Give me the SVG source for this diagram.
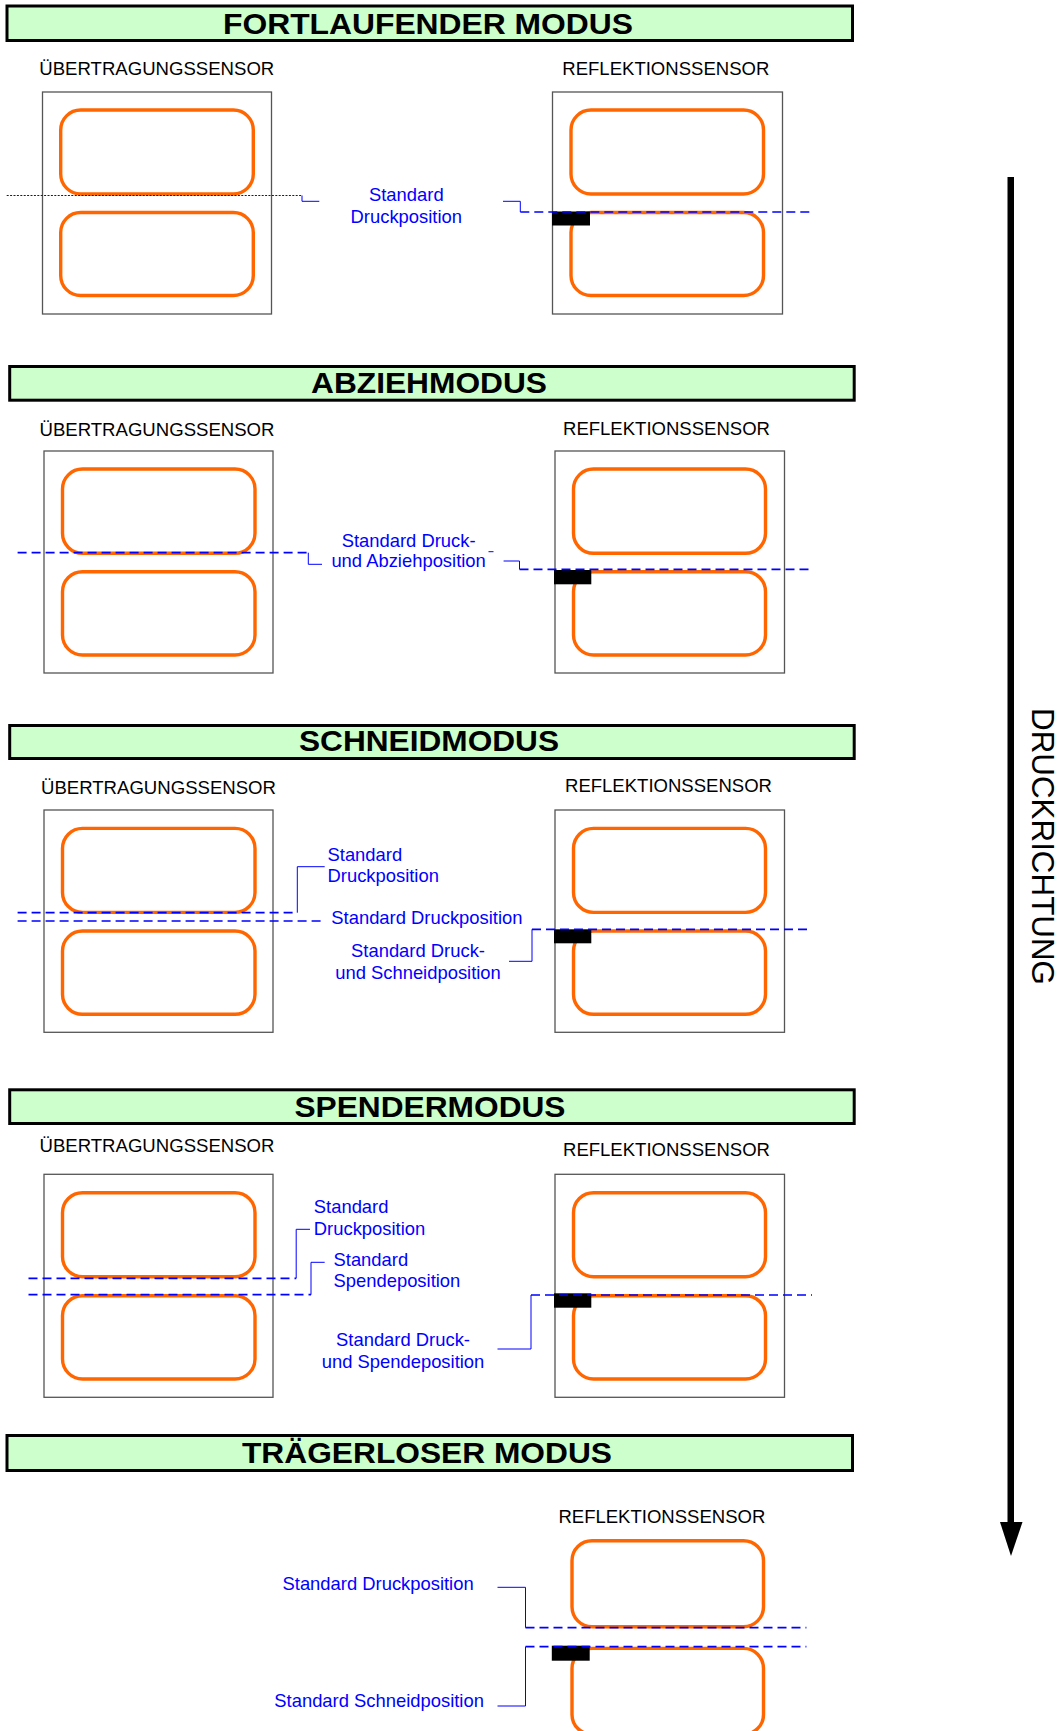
<svg xmlns="http://www.w3.org/2000/svg" width="1061" height="1731" viewBox="0 0 1061 1731">
<style>
.bg{fill:#fff}
.bar{fill:#CCFFCC;stroke:#000;stroke-width:3}
.ttl{font-family:"Liberation Sans",Arial,sans-serif;font-weight:bold;font-size:30px;fill:#000;text-anchor:middle}
.sen{font-family:"Liberation Sans",Arial,sans-serif;font-size:18px;fill:#000}
.box{fill:none;stroke:#555;stroke-width:1.3}
.lab{fill:none;stroke:#FF6600;stroke-width:3.4}
.mark{fill:#000}
.bt{font-family:"Liberation Sans",Arial,sans-serif;font-size:18.4px;fill:#0000FF}
.mid{text-anchor:middle}
.dash{fill:none;stroke:#0000FF;stroke-width:1.7;stroke-dasharray:9 5}
.dot{fill:none;stroke:#0000FF;stroke-width:1.2;stroke-dasharray:2 1.4}
.con{fill:none;stroke:#0000FF;stroke-width:1}
</style>
<rect class="bg" x="0" y="0" width="1061" height="1731"/>

<g id="fortlaufend">
<rect class="bar" x="7" y="6" width="845.5" height="34.5"/>
<text class="ttl" x="428" y="34" textLength="410" lengthAdjust="spacingAndGlyphs">FORTLAUFENDER MODUS</text>
<text class="sen" x="39.3" y="75" textLength="235" lengthAdjust="spacingAndGlyphs">ÜBERTRAGUNGSSENSOR</text>
<text class="sen" x="562.3" y="75" textLength="207" lengthAdjust="spacingAndGlyphs">REFLEKTIONSSENSOR</text>
<rect class="box" x="42.5" y="92" width="229" height="222"/>
<rect class="lab" x="60.7" y="110" width="192.6" height="84" rx="20"/>
<rect class="lab" x="60.7" y="212.5" width="192.6" height="83" rx="20"/>
<rect class="box" x="552.5" y="92" width="230" height="222"/>
<rect class="lab" x="571" y="110" width="192.5" height="84" rx="20"/>
<rect class="lab" x="571" y="212.5" width="192.5" height="83" rx="20"/>
<rect class="mark" x="552" y="211.5" width="38" height="14"/>
<text class="bt mid" x="406.3" y="201">Standard</text>
<text class="bt mid" x="406.3" y="222.7">Druckposition</text>
</g>

<g id="abziehmodus">
<rect class="bar" x="9.7" y="366.5" width="844.5" height="33.7"/>
<text class="ttl" x="429" y="393" textLength="236" lengthAdjust="spacingAndGlyphs">ABZIEHMODUS</text>
<text class="sen" x="39.5" y="436" textLength="235" lengthAdjust="spacingAndGlyphs">ÜBERTRAGUNGSSENSOR</text>
<text class="sen" x="563" y="435.3" textLength="207" lengthAdjust="spacingAndGlyphs">REFLEKTIONSSENSOR</text>
<rect class="box" x="44" y="451" width="229" height="222"/>
<rect class="lab" x="62.5" y="469" width="192.5" height="84.3" rx="20"/>
<rect class="lab" x="62.5" y="571.7" width="192.5" height="83.3" rx="20"/>
<rect class="box" x="555" y="451" width="229.5" height="222"/>
<rect class="lab" x="573.5" y="469" width="192" height="84.3" rx="20"/>
<rect class="lab" x="573.5" y="571.7" width="192" height="83.3" rx="20"/>
<rect class="mark" x="554" y="570" width="37.3" height="14.3"/>
<text class="bt mid" x="408.6" y="546.7">Standard Druck-</text>
<text class="bt mid" x="408.6" y="567.3">und Abziehposition</text>
</g>

<g id="schneidmodus">
<rect class="bar" x="9.7" y="725.5" width="844.5" height="33"/>
<text class="ttl" x="429" y="750.7" textLength="260" lengthAdjust="spacingAndGlyphs">SCHNEIDMODUS</text>
<text class="sen" x="41" y="794" textLength="235" lengthAdjust="spacingAndGlyphs">ÜBERTRAGUNGSSENSOR</text>
<text class="sen" x="565" y="791.7" textLength="207" lengthAdjust="spacingAndGlyphs">REFLEKTIONSSENSOR</text>
<rect class="box" x="44" y="810" width="229" height="222.3"/>
<rect class="lab" x="62.5" y="828.4" width="192.5" height="84" rx="20"/>
<rect class="lab" x="62.5" y="931" width="192.5" height="83.3" rx="20"/>
<rect class="box" x="555" y="810" width="229.5" height="222.3"/>
<rect class="lab" x="573.5" y="828.4" width="192" height="84" rx="20"/>
<rect class="lab" x="573.5" y="931" width="192" height="83.3" rx="20"/>
<rect class="mark" x="554" y="929.3" width="37.3" height="14"/>
<text class="bt" x="327.5" y="860.7">Standard</text>
<text class="bt" x="327.5" y="881.7">Druckposition</text>
<text class="bt" x="331.3" y="924">Standard Druckposition</text>
<text class="bt mid" x="418" y="957.3">Standard Druck-</text>
<text class="bt mid" x="418" y="979.3">und Schneidposition</text>
</g>

<g id="spendermodus">
<rect class="bar" x="9.7" y="1089.8" width="844.5" height="33.7"/>
<text class="ttl" x="430" y="1116.7" textLength="271" lengthAdjust="spacingAndGlyphs">SPENDERMODUS</text>
<text class="sen" x="39.5" y="1151.7" textLength="235" lengthAdjust="spacingAndGlyphs">ÜBERTRAGUNGSSENSOR</text>
<text class="sen" x="563" y="1155.7" textLength="207" lengthAdjust="spacingAndGlyphs">REFLEKTIONSSENSOR</text>
<rect class="box" x="44" y="1174.3" width="229" height="223"/>
<rect class="lab" x="62.5" y="1192.7" width="192.5" height="84" rx="20"/>
<rect class="lab" x="62.5" y="1295.7" width="192.5" height="83.3" rx="20"/>
<rect class="box" x="555" y="1174.3" width="229.5" height="223"/>
<rect class="lab" x="573.5" y="1192.7" width="192" height="84" rx="20"/>
<rect class="lab" x="573.5" y="1295.7" width="192" height="83.3" rx="20"/>
<rect class="mark" x="554" y="1293.3" width="37.3" height="14.4"/>
<text class="bt" x="313.8" y="1213.3">Standard</text>
<text class="bt" x="313.8" y="1235">Druckposition</text>
<text class="bt" x="333.5" y="1265.7">Standard</text>
<text class="bt" x="333.5" y="1286.7">Spendeposition</text>
<text class="bt mid" x="403" y="1345.7">Standard Druck-</text>
<text class="bt mid" x="403" y="1367.7">und Spendeposition</text>
</g>

<g id="traegerloser">
<rect class="bar" x="7" y="1435.5" width="845.5" height="35"/>
<text class="ttl" x="427" y="1462.7" textLength="370" lengthAdjust="spacingAndGlyphs">TRÄGERLOSER MODUS</text>
<text class="sen" x="558.4" y="1523.3" textLength="207" lengthAdjust="spacingAndGlyphs">REFLEKTIONSSENSOR</text>
<rect class="lab" x="572" y="1540.7" width="191.5" height="86" rx="20"/>
<rect class="lab" x="572" y="1648.4" width="191.5" height="86" rx="20"/>
<rect class="mark" x="551.8" y="1645.7" width="37.9" height="15"/>
<text class="bt" x="282.5" y="1590">Standard Druckposition</text>
<text class="bt" x="274.3" y="1706.7">Standard Schneidposition</text>
</g>

<g id="connectors">
<path class="dot" d="M6.7 195.5H302"/>
<path class="con" d="M302 195.5V201.3H319.3"/>
<path class="con" d="M503 201.3H520.3V212"/>
<path class="dash" d="M520.3 212H811"/>

<path class="dash" d="M17.6 552.7H308.3"/>
<path class="con" d="M308.3 552.7V564.3H322"/>
<path class="con" d="M488.5 551.7H493.5"/>
<path class="con" d="M503.6 561H519.5V569.3"/>
<path class="dash" d="M519.5 569.3H812"/>

<path class="dash" d="M17.6 912.7H297.3"/>
<path class="con" d="M297.3 912.7V866.7H324.7"/>
<path class="dash" d="M17.6 921H324.7"/>
<path class="dash" d="M532 929.3H812"/>
<path class="con" d="M532 929.3V961.3H509"/>

<path class="dash" d="M28.5 1278.3H296.2"/>
<path class="con" d="M296.2 1278.3V1229.3H310"/>
<path class="dash" d="M28.5 1294.7H311"/>
<path class="con" d="M311 1294.7V1262.3H324.7"/>
<path class="dash" d="M531 1295H812"/>
<path class="con" d="M531 1295V1349H497.5"/>

<path class="con" d="M497.5 1587.3H525.5V1627.7"/>
<path class="dash" d="M525.5 1627.7H806.4"/>
<path class="dash" d="M525.5 1646.7H806.4"/>
<path class="con" d="M525.5 1646.7V1706H497.5"/>
</g>

<g id="druckrichtung">
<rect x="1007.5" y="177" width="6.5" height="1346" fill="#000"/>
<polygon points="1000,1522 1022.5,1522 1011,1556" fill="#000"/>
<text class="sen" transform="translate(1032,708) rotate(90)" x="0" y="0" style="font-size:32px" textLength="277" lengthAdjust="spacingAndGlyphs">DRUCKRICHTUNG</text>
</g>
</svg>
